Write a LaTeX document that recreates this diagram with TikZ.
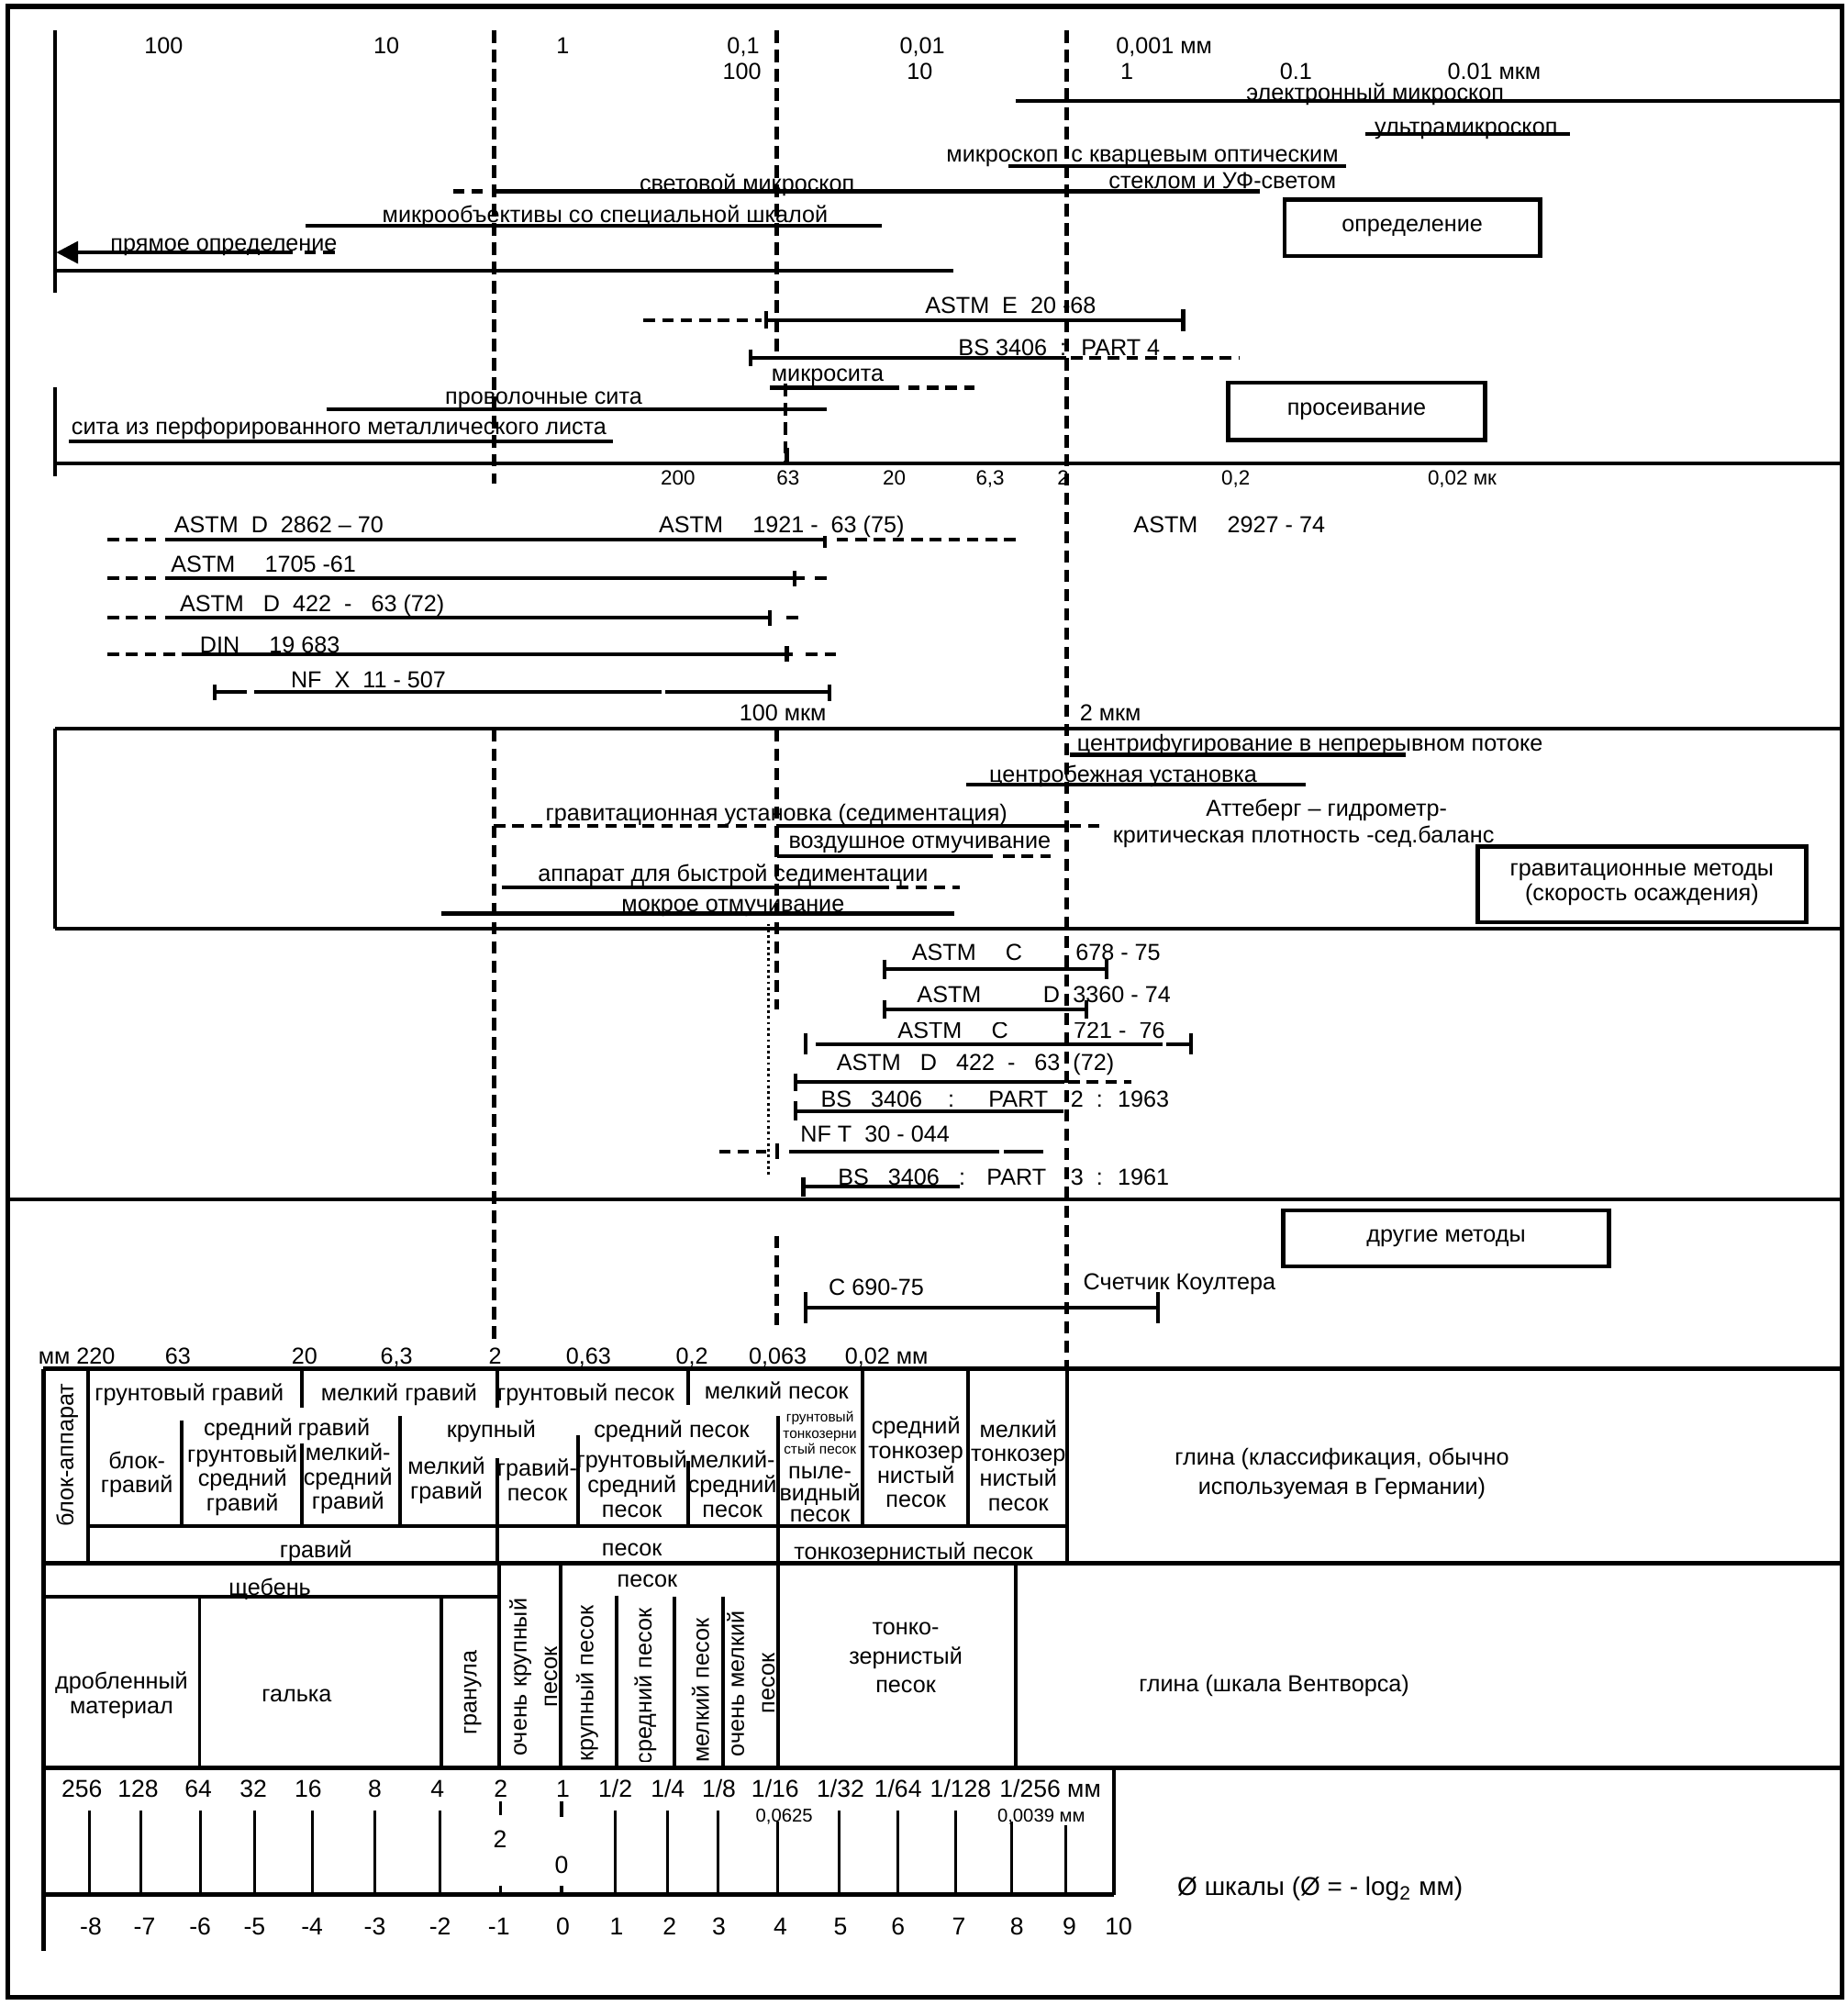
\documentclass[tikz,border=0pt]{standalone}
\usepackage{fontspec}
\setmainfont{Liberation Sans}
\usetikzlibrary{arrows.meta}

\begin{document}
\begin{tikzpicture}[
    x=0.014cm, y=-0.014cm,
    lab/.style={font={\fontsize{7.2}{7.6}\selectfont}, inner sep=0pt, text height=1.25ex, text depth=0pt},
    blk/.style={font={\fontsize{7.2}{7.6}\selectfont}, inner sep=0pt, align=center},
    num/.style={font={\fontsize{6.4}{7}\selectfont}, inner sep=0pt, text height=1.25ex, text depth=0pt},
    phinum/.style={font={\fontsize{7.6}{8}\selectfont}, inner sep=0pt, text height=1.25ex, text depth=0pt},
    vtext/.style={font={\fontsize{7.2}{9.5}\selectfont}, rotate=90, align=center, inner sep=0pt},
    rng/.style={line width=1.2pt},
    rngd/.style={line width=1.2pt, dash pattern=on 3.6pt off 2.2pt},
    guide/.style={line width=1.4pt, dash pattern=on 3.8pt off 2.2pt},
    sect/.style={line width=1.3pt},
    cell/.style={line width=1.1pt},
    tck/.style={line width=0.9pt},
    methodbox/.style={draw, line width=1.3pt, font={\fontsize{7.2}{7.6}\selectfont}, align=center, inner sep=0pt}
]
\useasboundingbox (0,0) rectangle (1444,1568);
\draw[line width=1.5pt] (6,5) rectangle (1440,1561);

% guide lines
\draw[guide] (386,24) -- (386,378);
\draw[guide] (386,570) -- (386,1050);
\draw[guide] (607,24) -- (607,275);
\draw[guide] (614,300) -- (614,362);
\draw[guide] (607,570) -- (607,789);
\draw[guide] (607,966) -- (607,1040);
\draw[guide] (834,24) -- (834,1070);
\draw[densely dotted, line width=0.8pt] (600.5,722) -- (600.5,920);

% scale
\node[lab] (s100) at (128,34) {100};
\node[lab] (s10) at (302,34) {10};
\node[lab] (s1) at (440,34) {1};
\node[lab] (s01) at (581,34) {0,1};
\node[lab] (s001) at (721,34) {0,01};
\node[lab] (s0001) at (910,34) {0,001 мм};
\node[lab] (u100) at (580,54) {100};
\node[lab] (u10) at (719,54) {10};
\node[lab] (u1) at (881,54) {1};
\node[lab] (u01) at (1013,53.5) {0.1};
\node[lab] (u001) at (1168,53.5) {0.01 мкм};

% determination
\draw[rng] (43,24) -- (43,229);
\draw[rng] (794,79) -- (1440,79);
\node[lab] (em) at (1075,70) {электронный микроскоп};
\draw[rng] (1067,104.5) -- (1227,104.5);
\node[lab] (um) at (1146,96.5) {ультрамикроскоп};
\draw[rng] (788,130) -- (1052,130);
\node[lab] (qm) at (893,118.5) {микроскоп \ с кварцевым оптическим};
\node[lab] (qm2) at (955.6,139) {стеклом и УФ-светом};
\draw[rngd] (354,149.5) -- (382,149.5);
\draw[rng] (386,149.5) -- (985,149.5);
\node[lab] (lm) at (584,141.5) {световой микроскоп};
\draw[rng] (239,176.5) -- (689,176.5);
\node[lab] (mo) at (473,166) {микрообъективы со специальной шкалой};
\draw[rng, -{Triangle[length=6.8pt,width=6.8pt]}] (229,197.3) -- (44,197.3);
\draw[rngd] (238,197.3) -- (263,197.3);
\node[lab] (dd) at (175,188) {прямое определение};
\draw[sect] (43,211.6) -- (745,211.6);
\node[methodbox, minimum width=2.8cm, minimum height=0.616cm] (det) at (1104,178) {определение};

% sieving
\draw[rngd] (503,250.5) -- (595,250.5);
\draw[rng] (599,250.5) -- (925,250.5);
\draw[rng] (599,243) -- (599,257);
\draw[rng] (925,242) -- (925,259);
\node[lab] (e20) at (790,237) {ASTM \ E \ 20 -68};
\draw[rng] (587,280) -- (833.6,280);
\draw[rng] (587,273) -- (587,286);
\draw[rngd] (837,280) -- (968.5,280);
\node[lab] (bs4) at (828,270) {BS 3406 \ : \ PART 4};
\draw[rng] (602,303) -- (703,303);
\draw[rngd] (710,303) -- (762,303);
\node[lab] (msv) at (647,290) {микросита};
\draw[rng] (255,320) -- (646,320);
\node[lab] (wsv) at (425,307.5) {проволочные сита};
\draw[rng] (54,345) -- (479,345);
\node[lab] (psv) at (265,331.5) {сита из перфорированного металлического листа};
\draw[rng] (43,302.5) -- (43,372);
\draw[sect] (43,362.3) -- (1440,362.3);
\draw[rng] (615,350) -- (615,362);
\node[methodbox, minimum width=2.814cm, minimum height=0.63cm] (siev) at (1060.5,321.5) {просеивание};
\foreach \x/\t [count=\i] in {530/200, 616/63, 699/20, 774/{6,3}, 831/2, 966/{0,2}, 1143/{0,02 мк}}
  \node[num] (sv\i) at (\x,371) {\t};

% standards
\node[lab] (d2862) at (218,408) {ASTM \ D \ 2862 – 70};
\node[lab] (a1921) at (611,408) {ASTM \quad 1921 - \ 63 (75)};
\node[lab] (a2927) at (961,408) {ASTM \quad 2927 - 74};
\draw[rngd] (84,421.6) -- (124,421.6);
\draw[rng] (129,421.6) -- (645,421.6);
\draw[rng] (645,419) -- (645,428);
\draw[rngd] (654,421.6) -- (798,421.6);
\node[lab] (a1705) at (206,439) {ASTM \quad 1705 -61};
\draw[rngd] (84,452) -- (124,452);
\draw[rng] (129,452) -- (629,452);
\draw[rng] (621,446) -- (621,458);
\draw[rngd] (637,452) -- (648,452);
\node[lab] (d422) at (244,470) {ASTM \ \ D \ 422 \ - \ \ 63 (72)};
\draw[rngd] (84,483) -- (124,483);
\draw[rng] (129,483) -- (602,483);
\draw[rng] (602,477) -- (602,489);
\draw[rngd] (615,483) -- (626,483);
\node[lab] (din) at (211,502) {DIN \quad 19 683};
\draw[rngd] (84,511.3) -- (137,511.3);
\draw[rng] (142,511.3) -- (620,511.3);
\draw[rng] (615,505) -- (615,517);
\draw[rngd] (630,511.3) -- (655,511.3);
\node[lab] (nfx) at (288,529) {NF \ X \ 11 - 507};
\draw[rng] (168,541) -- (193,541);
\draw[rng] (199,541) -- (517,541);
\draw[rng] (520,541) -- (648.5,541);
\draw[rng] (168,535) -- (168,547);
\draw[rng] (648.5,535) -- (648.5,548);
\node[lab] (m100) at (612,555) {100 мкм};
\node[lab] (m2) at (868,555) {2 мкм};

% gravitational methods
\draw[sect] (43,569.6) -- (1440,569.6);
\draw[sect] (43,726) -- (1440,726);
\draw[sect] (43,569.6) -- (43,726);
\node[lab] (cf) at (1024,579) {центрифугирование в непрерывном потоке};
\draw[rng] (836,590) -- (1099,590);
\node[lab] (cu) at (878,603.5) {центробежная установка};
\draw[rng] (755,613) -- (1021,613);
\node[lab] (att) at (1037,630) {Аттеберг – гидрометр-};
\node[lab] (crit) at (1019,650.6) {критическая плотность -сед.баланс};
\node[lab] (gu) at (607,633.5) {гравитационная установка (седиментация)};
\draw[rngd] (386,645.6) -- (600,645.6);
\draw[rng] (607,645.6) -- (832,645.6);
\draw[rngd] (836,645.6) -- (864,645.6);
\node[lab] (ae) at (719,655) {воздушное отмучивание};
\draw[rng] (607.6,669.5) -- (776,669.5);
\draw[rngd] (784,669.5) -- (821,669.5);
\node[lab] (fsd) at (573,680.5) {аппарат для быстрой седиментации};
\draw[rng] (392,693.6) -- (695,693.6);
\draw[rngd] (701,693.6) -- (750,693.6);
\node[lab] (we) at (573,704) {мокрое отмучивание};
\draw[rng] (345,714) -- (746,714);
\node[methodbox, minimum width=3.6cm, minimum height=0.83cm] (grav) at (1283.5,691.3) {гравитационные методы\\(скорость осаждения)};

% other standards
\node[lab] (c678a) at (756,742.5) {ASTM \quad C};
\node[lab] (c678b) at (874,742.5) {678 - 75};
\draw[rng] (691.5,757.5) -- (865,757.5);
\draw[rng] (691.5,750) -- (691.5,765);
\draw[rng] (865,750) -- (865,765);
\node[lab] (d3360a) at (742,775.5) {ASTM};
\node[lab] (d3360b) at (822,775.5) {D};
\node[lab] (d3360c) at (877,775.5) {3360 - 74};
\draw[rng] (691.5,789) -- (849.5,789);
\draw[rng] (691.5,782) -- (691.5,796);
\draw[rng] (849.5,782) -- (849.5,796);
\begin{scope}
  \clip (680,799.5) rectangle (960,830);
  \node[lab] (c721a) at (745,803.5) {ASTM \quad C};
  \node[lab] (c721b) at (875,803.5) {721 - \ 76};
\end{scope}
\draw[rng] (638,816) -- (909,816);
\draw[rng] (912,816) -- (931,816);
\draw[rng] (630,808) -- (630,824);
\draw[rng] (931,808) -- (931,824);
\node[lab] (d422b) at (762.5,828.6) {ASTM \ \ D \ \ 422 \ - \ \ 63 \ (72)};
\draw[rng] (622,845.8) -- (832,845.8);
\draw[rng] (622,839) -- (622,853);
\draw[rngd] (835,845.8) -- (884.5,845.8);
\node[lab] (bs2a) at (730.5,857) {BS \ \ 3406 \ \ \ : \ \ \ \ PART};
\node[lab] (bs2b) at (875.5,857) {2 \ : \ 1963};
\draw[rng] (622,868.5) -- (831,868.5);
\draw[rng] (622,861) -- (622,876);
\node[lab] (nft) at (684,884.7) {NF T \ 30 - 044};
\draw[rngd] (562,900) -- (599,900);
\draw[rng] (607.7,894) -- (607.7,906);
\draw[rng] (617,900) -- (781,900);
\draw[rng] (785,900) -- (815.6,900);
\node[lab] (bs3a) at (736.5,918) {BS \ \ 3406 \ \ : \ \ PART};
\node[lab] (bs3b) at (875.5,918) {3 \ : \ 1961};
\draw[rng] (628,927.5) -- (750.6,927.5);
\draw[rng] (628,920) -- (628,935);
\draw[sect] (6,937.5) -- (1440,937.5);

% other methods
\node[methodbox, minimum width=3.57cm, minimum height=0.616cm] (oth) at (1130.5,968) {другие методы};
\node[lab] (c690) at (685,1004) {C 690-75};
\draw[rng] (630,1022) -- (905,1022);
\draw[rng] (630,1010) -- (630,1034);
\draw[rng] (905,1010) -- (905,1034);
\node[lab] (coul) at (922,1000) {Счетчик Коултера};

% classification table
\foreach \x/\t [count=\i] in {60/мм 220, 139/63, 238/20, 310/{6,3}, 387/2, 460/{0,63}, 541/{0,2}, 608/{0,063}, 693/{0,02 мм}}
  \node[lab] (hd\i) at (\x,1058) {\t};
\draw[sect] (34,1070) -- (1440,1070);
\draw[sect] (34,1070) -- (34,1525);
\draw[sect] (34,1222) -- (1440,1222);
\draw[sect] (34,1382) -- (1440,1382);
\draw[sect] (34,1481) -- (871,1481);
\draw[cell] (871,1382) -- (871,1481);

% German classification
\draw[cell] (69,1070) -- (69,1222);
\draw[cell] (142,1110) -- (142,1193);
\draw[cell] (236,1070) -- (236,1100) (236,1128) -- (236,1193);
\draw[cell] (313,1107) -- (313,1193);
\draw[cell] (389,1070) -- (389,1100) (389,1140) -- (389,1222);
\draw[cell] (452,1122) -- (452,1193);
\draw[cell] (538,1070) -- (538,1098) (538,1142) -- (538,1193);
\draw[cell] (608,1107) -- (608,1222);
\draw[cell] (674,1070) -- (674,1193);
\draw[cell] (757,1070) -- (757,1193);
\draw[cell] (834,1070) -- (834,1222);
\draw[sect] (69,1193) -- (834,1193);
\node[vtext] (blk) at (52.5,1137.5) {блок-аппарат};
\node[lab] (g1) at (148,1087) {грунтовый гравий};
\node[lab] (g2) at (312,1087) {мелкий гравий};
\node[lab] (g3) at (458,1087) {грунтовый песок};
\node[lab] (g4) at (607,1085) {мелкий песок};
\node[lab] (g5) at (194,1114) {средний};
\node[lab] (g6) at (261,1114) {гравий};
\node[lab] (g7) at (384,1115) {крупный};
\node[lab] (g8) at (525,1115) {средний песок};
\node[blk] (g9) at (107,1152.5) {блок-\\гравий};
\node[blk] (g10) at (189.5,1157) {грунтовый\\средний\\гравий};
\node[blk] (g11) at (272,1156) {мелкий-\\средний\\гравий};
\node[blk] (g12) at (349,1157) {мелкий\\гравий};
\node[blk] (g13) at (420,1157) {гравий-\\песок};
\node[blk] (g14) at (494,1160) {грунтовый\\средний\\песок};
\node[blk] (g15) at (572.5,1160) {мелкий-\\средний\\песок};
\node[blk, font={\fontsize{4.4}{4.9}\selectfont}] (g16) at (641,1120) {грунтовый\\тонкозерни\\стый песок};
\begin{scope}
  \clip (610,1140) rectangle (672,1189);
  \node[blk, font={\fontsize{7.2}{6.8}\selectfont}] (g17) at (641,1168) {пыле-\\видный\\песок};
\end{scope}
\node[blk] (g18) at (716,1143) {средний\\тонкозер\\нистый\\песок};
\node[blk] (g19) at (796,1145.5) {мелкий\\тонкозер\\нистый\\песок};
\node[lab] (g20) at (247,1209) {гравий};
\node[lab] (g21) at (494,1208) {песок};
\node[lab] (g22) at (714,1211) {тонкозернистый песок};
\node[blk, font={\fontsize{7.2}{9}\selectfont}] (g23) at (1049,1152) {глина (классификация, обычно\\используемая в Германии)};

% Wentworth scale
\node[lab] (w1) at (211,1238.5) {щебень};
\draw[cell] (34,1248) -- (390,1248);
\draw[cell] (156,1249) -- (156,1382);
\draw[cell] (345,1249) -- (345,1382);
\draw[cell] (390,1222) -- (390,1382);
\draw[cell] (438,1222) -- (438,1382);
\draw[cell] (482,1247) -- (482,1382);
\draw[cell] (527,1248) -- (527,1382);
\draw[cell] (565,1248) -- (565,1382);
\draw[cell] (608,1222) -- (608,1382);
\draw[cell] (794,1222) -- (794,1382);
\node[lab] (w2) at (506,1232.6) {песок};
\node[blk] (w3) at (95,1325) {дробленный\\материал};
\node[lab] (w4) at (232,1322) {галька};
\begin{scope}
  \clip (345,1249) rectangle (608,1377);
  \node[vtext] (w5) at (369.5,1323) {гранула};
  \node[vtext] (w6) at (417,1311) {очень крупный\\песок};
  \node[vtext] (w7) at (459,1316) {крупный песок};
  \node[vtext] (w8) at (504.5,1318) {средний песок};
  \node[vtext] (w9) at (547.6,1321.5) {мелкий песок};
  \node[vtext] (w10) at (587,1316) {очень мелкий\\песок};
\end{scope}
\node[blk, font={\fontsize{7.2}{9}\selectfont}] (w11) at (708,1296) {тонко-\\зернистый\\песок};
\node[lab] (w12) at (996,1314) {глина (шкала Вентворса)};

% phi scale
\foreach \x/\t [count=\i] in {64/256, 108/128, 155/64, 198/32, 241/16, 293/8, 342/4, 391.5/2, 440/1, 481/{1/2}, 522/{1/4}, 562/{1/8}, 606/{1/16}, 657/{1/32}, 702/{1/64}, 751/{1/128}, 821/{1/256 мм}}
  \node[phinum] (mm\i) at (\x,1396.6) {\t};
\foreach \x in {70,110,156.5,199,244,293,344,481,522,561,656,702,747}
  \draw[tck] (\x,1415) -- (\x,1481);
\draw[tck] (608,1424) -- (608,1481);
\draw[tck] (791,1424) -- (791,1481);
\draw[tck] (833,1427) -- (833,1481);
\draw[tck] (391,1408) -- (391,1419) (391,1474) -- (391,1481);
\draw[tck] (439,1408) -- (439,1420) (439,1474) -- (439,1481);
\node[lab, font={\fontsize{5.8}{6.4}\selectfont}] (p0625) at (613,1416) {0,0625};
\node[lab, font={\fontsize{5.8}{6.4}\selectfont}] (p0039) at (814,1416) {0,0039 мм};
\node[phinum] (p2) at (391,1436) {2};
\node[phinum] (p0) at (439,1456) {0};
\foreach \x/\t [count=\i] in {71/-8, 113/-7, 156.5/-6, 199/-5, 244/-4, 293/-3, 344/-2, 390/-1, 440/0, 482/1, 523.5/2, 562/3, 610/4, 657/5, 702/6, 749.6/7, 795/8, 836/9, 874.5/10}
  \node[phinum] (ph\i) at (\x,1504) {\t};
\node[phinum, font={\fontsize{8}{9}\selectfont}] (phi) at (1032,1473) {Ø шкалы (Ø = - log\textsubscript{2} мм)};

\end{tikzpicture}
\end{document}
